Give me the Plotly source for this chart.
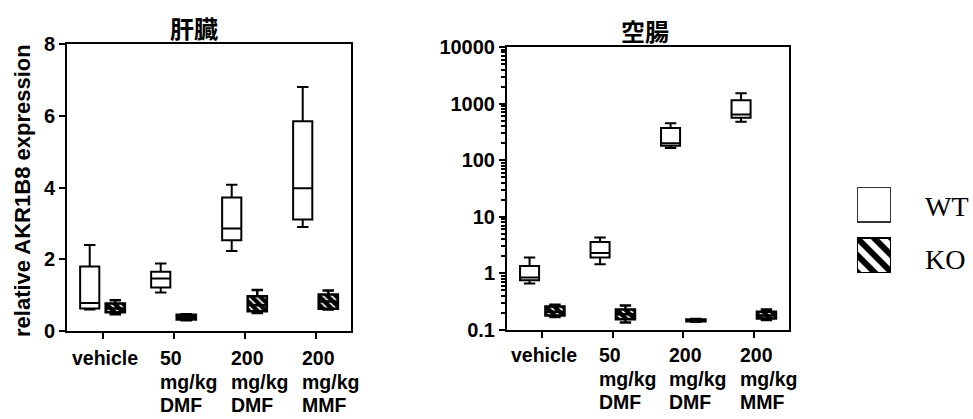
import plotly.graph_objects as go

categories = ["vehicle", "50<br>mg/kg<br>DMF", "200<br>mg/kg<br>DMF", "200<br>mg/kg<br>MMF"]
groups = ["WT", "KO"]

# 肝臓 (liver), linear scale
liver_wt_min = [0.60, 1.07, 2.23, 2.90]
liver_wt_q1 = [0.63, 1.21, 2.53, 3.11]
liver_wt_med = [0.78, 1.46, 2.86, 3.98]
liver_wt_q3 = [1.80, 1.65, 3.72, 5.85]
liver_wt_max = [2.40, 1.88, 4.08, 6.80]

liver_ko_min = [0.47, 0.30, 0.50, 0.60]
liver_ko_q1 = [0.52, 0.32, 0.55, 0.62]
liver_ko_med = [0.63, 0.38, 0.72, 0.82]
liver_ko_q3 = [0.77, 0.45, 0.97, 1.02]
liver_ko_max = [0.86, 0.47, 1.14, 1.13]

# 空腸 (jejunum), log scale
gut_wt_min = [0.66, 1.45, 165, 480]
gut_wt_q1 = [0.76, 1.9, 180, 560]
gut_wt_med = [0.85, 2.3, 200, 640]
gut_wt_q3 = [1.35, 3.6, 370, 1150]
gut_wt_max = [1.9, 4.3, 450, 1520]

gut_ko_min = [0.17, 0.135, 0.140, 0.150]
gut_ko_q1 = [0.18, 0.155, 0.143, 0.160]
gut_ko_med = [0.21, 0.19, 0.148, 0.180]
gut_ko_q3 = [0.26, 0.23, 0.153, 0.21]
gut_ko_max = [0.28, 0.27, 0.156, 0.23]

W, H = 973, 419
OFF = 0.18
BW = 0.27
idx = list(range(len(categories)))
x_wt = [i - OFF for i in idx]
x_ko = [i + OFF for i in idx]

HATCH = dict(shape="\\", fgcolor="black", bgcolor="white", fgopacity=1, size=6, solidity=0.72)
TICKFONT = dict(family="Liberation Sans", size=20, color="black", weight="bold")
LABELFONT = dict(family="Liberation Sans", size=19.5, color="black", weight="bold")

fig = go.Figure()

def add_panel(xa, ya, wmin, wq1, wmed, wq3, wmax, kmin, kq1, kmed, kq3, kmax):
    # hatch fill for KO boxes (drawn beneath the box outline)
    fig.add_trace(go.Bar(
        x=x_ko, base=kq1, y=[b - a for a, b in zip(kq1, kq3)], width=BW,
        marker=dict(color="white", pattern=HATCH, line=dict(width=0)),
        xaxis=xa, yaxis=ya, showlegend=False, hoverinfo="skip"))
    fig.add_trace(go.Box(
        x=x_wt, lowerfence=wmin, q1=wq1, median=wmed, q3=wq3, upperfence=wmax,
        width=BW, fillcolor="white", line=dict(color="black", width=2),
        whiskerwidth=0.6, boxpoints=False, name="WT",
        xaxis=xa, yaxis=ya, showlegend=False))
    fig.add_trace(go.Box(
        x=x_ko, lowerfence=kmin, q1=kq1, median=kmed, q3=kq3, upperfence=kmax,
        width=BW, fillcolor="rgba(0,0,0,0)", line=dict(color="black", width=2.5),
        whiskerwidth=0.6, boxpoints=False, name="KO",
        xaxis=xa, yaxis=ya, showlegend=False))

add_panel("x", "y", liver_wt_min, liver_wt_q1, liver_wt_med, liver_wt_q3, liver_wt_max,
          liver_ko_min, liver_ko_q1, liver_ko_med, liver_ko_q3, liver_ko_max)
add_panel("x2", "y2", gut_wt_min, gut_wt_q1, gut_wt_med, gut_wt_q3, gut_wt_max,
          gut_ko_min, gut_ko_q1, gut_ko_med, gut_ko_q3, gut_ko_max)

# legend glyphs drawn in their own small hidden axis
fig.add_trace(go.Bar(x=[0], base=[51], y=[35], width=[1],
                     marker=dict(color="white", line=dict(color="#333", width=2)),
                     xaxis="x3", yaxis="y3", showlegend=False, hoverinfo="skip"))
fig.add_trace(go.Bar(x=[0], base=[0], y=[35], width=[1],
                     marker=dict(color="white", line=dict(color="black", width=2),
                                 pattern=dict(shape="\\", fgcolor="black", bgcolor="white",
                                              fgopacity=1, size=12, solidity=0.5)),
                     xaxis="x3", yaxis="y3", showlegend=False, hoverinfo="skip"))

def px_x(p):
    return p / W

def px_y(p):
    return 1 - p / H

axis_common = dict(showline=True, linecolor="black", linewidth=2, mirror=True,
                   showgrid=False, zeroline=False, ticks="outside", tickwidth=2,
                   tickcolor="black", ticklen=6, tickfont=TICKFONT, automargin=False)

fig.update_layout(
    width=W, height=H,
    margin=dict(l=0, r=0, t=0, b=0, autoexpand=False),
    paper_bgcolor="white", plot_bgcolor="white",
    barmode="overlay",
    showlegend=False,
    xaxis=dict(domain=[px_x(67), px_x(351)], range=[-0.5, 3.5], tickvals=idx,
               showticklabels=False, anchor="y", **axis_common),
    yaxis=dict(domain=[px_y(331), px_y(44)], range=[0, 8], tickvals=[0, 2, 4, 6, 8],
               anchor="x", **axis_common),
    xaxis2=dict(domain=[px_x(507), px_x(789)], range=[-0.5, 3.5], tickvals=idx,
                showticklabels=False, anchor="y2", **axis_common),
    yaxis2=dict(domain=[px_y(330), px_y(47)], type="log", range=[-1, 4],
                tickvals=[0.1, 1, 10, 100, 1000, 10000],
                ticktext=["0.1", "1", "10", "100", "1000", "10000"],
                minor=dict(ticks="outside", ticklen=4, tickwidth=1.5, tickcolor="black",
                           dtick="D1", showgrid=False),
                anchor="x2", **axis_common),
    xaxis3=dict(domain=[px_x(857), px_x(891)], range=[-0.5, 0.5], visible=False,
                anchor="y3", fixedrange=True, automargin=False),
    yaxis3=dict(domain=[px_y(273), px_y(187)], range=[0, 86], visible=False,
                anchor="x3", fixedrange=True, automargin=False),
)

annotations = []
# panel titles
annotations.append(dict(text="肝臓", x=px_x(194), y=px_y(27), xref="paper", yref="paper",
                        xanchor="center", yanchor="middle", showarrow=False,
                        font=dict(family="Noto Sans CJK JP", size=24, color="black", weight="bold")))
annotations.append(dict(text="空腸", x=px_x(645), y=px_y(30), xref="paper", yref="paper",
                        xanchor="center", yanchor="middle", showarrow=False,
                        font=dict(family="Noto Sans CJK JP", size=24, color="black", weight="bold")))
# y axis title
annotations.append(dict(text="relative AKR1B8 expression", x=px_x(22), y=px_y(191),
                        xref="paper", yref="paper", xanchor="center", yanchor="middle",
                        textangle=-90, showarrow=False,
                        font=dict(family="Liberation Sans", size=22, color="black", weight="bold")))
# category labels: one annotation per line, left-aligned blocks
PITCH = 23.5
for xr, first in (("x", 358), ("x2", 355)):
    for i, lab in enumerate(categories):
        for j, line in enumerate(lab.split("<br>")):
            ann = dict(text=line, x=i, xref=xr, y=px_y(first + j * PITCH), yref="paper",
                       yanchor="middle", showarrow=False, font=LABELFONT, borderpad=0)
            if i == 0:
                ann.update(xanchor="center", xshift=2)
            else:
                ann.update(xanchor="left", xshift=-15)
            annotations.append(ann)
# legend labels
for lab, yc in zip(groups, (206, 259)):
    annotations.append(dict(text=lab, x=px_x(923), y=px_y(yc), xref="paper", yref="paper",
                            xanchor="left", yanchor="middle", showarrow=False,
                            font=dict(family="Liberation Serif", size=28, color="black")))

fig.update_layout(annotations=annotations)

fig.write_html("out.html")
